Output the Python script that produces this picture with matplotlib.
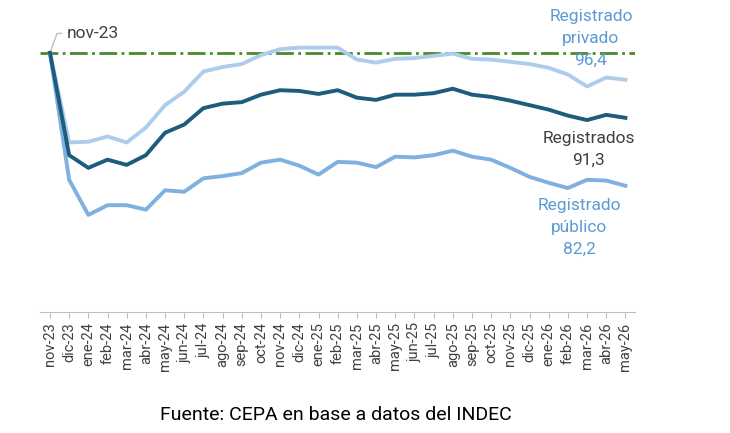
import matplotlib
matplotlib.use('Agg')
import matplotlib.pyplot as plt

plt.rcParams['font.family'] = ['Roboto', 'DejaVu Sans']

meses = ['nov-23','dic-23','ene-24','feb-24','mar-24','abr-24','may-24','jun-24','jul-24','ago-24',
         'sep-24','oct-24','nov-24','dic-24','ene-25','feb-25','mar-25','abr-25','may-25','jun-25',
         'jul-25','ago-25','sep-25','oct-25','nov-25','dic-25','ene-26','feb-26','mar-26','abr-26','may-26']
registrados = [100, 86.3, 84.6, 85.7, 85.0, 86.3, 89.3, 90.4, 92.6, 93.2, 93.4, 94.4, 95.0, 94.9, 94.5,
               95.0, 94.0, 93.7, 94.4, 94.4, 94.6, 95.2, 94.4, 94.1, 93.6, 93.0, 92.4, 91.6, 91.0, 91.7, 91.3]
privado = [100, 88.0, 88.1, 88.8, 88.0, 90.0, 93.0, 94.8, 97.5, 98.1, 98.5, 99.7, 100.5, 100.7, 100.7,
           100.7, 99.1, 98.7, 99.2, 99.3, 99.6, 99.9, 99.2, 99.1, 98.8, 98.5, 98.0, 97.1, 95.5, 96.7, 96.4]
publico = [100, 83.0, 78.3, 79.6, 79.6, 79.0, 81.6, 81.4, 83.2, 83.5, 83.9, 85.3, 85.7, 84.9, 83.7,
           85.4, 85.3, 84.7, 86.1, 86.0, 86.3, 86.9, 86.1, 85.7, 84.6, 83.4, 82.6, 81.9, 83.0, 82.9, 82.2]

W, H = 730, 433
fig = plt.figure(figsize=(W/100, H/100), dpi=100)
ax = fig.add_axes([40/W, 1-312/H, 595/W, 292/H])
x = list(range(len(meses)))

ax.axhline(100, color='#4a8a2a', lw=2, ls='-.', zorder=1)
ax.plot(x, privado, color='#aecdec', lw=2.8, solid_joinstyle='round', zorder=2)
ax.plot(x, publico, color='#7fb0e0', lw=2.8, solid_joinstyle='round', zorder=2)
ax.plot(x, registrados, color='#1d5c7c', lw=2.8, solid_joinstyle='round', zorder=3)

ax.set_xlim(-0.52, 30.5)
ax.set_ylim(65.3, 104.4)
ax.set_xticks(x)
ax.set_xticklabels(meses, rotation=90, fontsize=10.5, color='#404040')
ax.set_yticks([])
for s in ['top', 'right', 'left']:
    ax.spines[s].set_visible(False)
ax.spines['bottom'].set_color('#bfbfbf')
ax.tick_params(axis='x', length=4, color='#bfbfbf')

ax.annotate('nov-23', xy=(0, 100), xytext=(0.9, 102.6), fontsize=12.5, color='#404040',
            va='center', arrowprops=dict(arrowstyle='-', color='#bfbfbf', lw=1,
                                         connectionstyle='angle,angleA=0,angleB=70'))
ax.text(28.2, 105.9, f'Registrado\nprivado\n{privado[-1]:.1f}'.replace('.', ','), ha='center',
        va='top', fontsize=12.5, color='#5b9bd5', linespacing=1.6)
ax.text(28.1, 89.6, f'Registrados\n{registrados[-1]:.1f}'.replace('.', ','), ha='center',
        va='top', fontsize=12.5, color='#404040', linespacing=1.6)
ax.text(27.6, 80.6, f'Registrado\npúblico\n{publico[-1]:.1f}'.replace('.', ','), ha='center',
        va='top', fontsize=12.5, color='#5b9bd5', linespacing=1.6)

fig.text(336/W, 1-415/H, 'Fuente: CEPA en base a datos del INDEC', ha='center', va='center',
         fontsize=14, color='#000000')
fig.savefig('out.png', dpi=100)
